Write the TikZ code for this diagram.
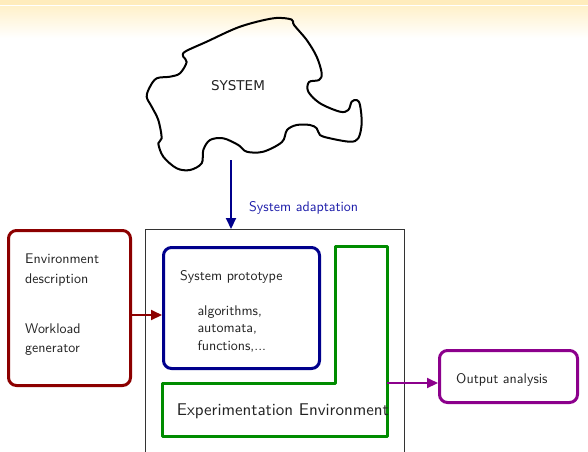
\documentclass[tikz,border=0pt]{standalone}
\usepackage{fontspec}
\newfontfamily\cloudfont{DejaVu Sans}
\newfontfamily\tensans{lmsans10-regular.otf}
\usetikzlibrary{arrows.meta}

\definecolor{boxred}{RGB}{140,0,0}
\definecolor{boxblue}{RGB}{0,0,140}
\definecolor{boxgreen}{RGB}{0,140,0}
\definecolor{boxpurple}{RGB}{140,0,140}
\definecolor{adaptblue}{RGB}{30,30,170}
\definecolor{headtop}{RGB}{255,236,188}
\definecolor{headfade}{RGB}{255,241,202}
\definecolor{txt}{RGB}{35,35,35}

\tikzset{
  smalltxt/.style={font=\tensans\fontsize{14}{17}\selectfont, text=txt, inner sep=0pt},
  bigtxt/.style={font=\tensans\fontsize{17}{20}\selectfont, text=txt, inner sep=0pt},
  roundbox/.style={line width=3pt, rounded corners=8pt},
  flow/.style={line width=2pt, -{Triangle[length=11pt,width=10pt]}},
}

\begin{document}
\begin{tikzpicture}[x=1pt,y=-1pt]
\useasboundingbox (0,0) rectangle (588,451);

% header band
\fill[headtop] (0,0) rectangle (588,4.5);
\fill[white] (0,4.5) rectangle (588,6);
\shade[top color=headfade, bottom color=white] (0,6) rectangle (588,38);

% the system cloud
\draw[line width=2pt, line join=round] plot[smooth cycle, tension=0.55] coordinates {
 (183.3,56.7) (185,51.7) (206.7,41.7) (240,26.7) (273.3,18.3) (291.5,19.5)
 (294,25) (306.7,40) (316.7,56.7) (321.7,73.3) (319,80) (309,82) (308.3,91.7)
 (320,103.3) (340,111.7) (348.3,110) (351.7,101.7) (356.7,100) (360,105)
 (361.7,123.3) (358.3,138.3) (350,141.7) (330,138.3) (320,135) (316.7,128.3)
 (310,125) (296.7,125) (287,130) (282,142) (263.3,151.7) (246.7,151.7)
 (238.3,145) (223.3,138.3) (210,140) (203.3,150) (201.7,163.3) (190,170)
 (176.7,168.3) (163.3,156.7) (158.3,143.3) (161.7,138.3) (158.3,120)
 (151.7,106.7) (146.7,96.7) (150,86.7) (156.7,78.3) (170,76.7) (180,73.3)
 (186.7,62)};
\node[font=\cloudfont\fontsize{13.5}{16}\selectfont, text=txt, inner sep=0pt] (sys) at (238,86) {SYSTEM};

% outer frame (runs off the bottom)
\draw[line width=0.8pt, black!80] (145,452) -- (145,229) -- (404,229) -- (404,452);
\coordinate (adaptfrom) at (231,160);
\coordinate (adaptto) at (231,229);
\draw[flow, boxblue] (adaptfrom) -- (adaptto);
\node[smalltxt, text=adaptblue, anchor=base west] (adapt) at (249,211) {System adaptation};

% environment / workload
\node[roundbox, draw=boxred, minimum width=122pt, minimum height=155pt, anchor=north west, inner sep=0pt] (env) at (7,229) {};
\node[smalltxt, anchor=base west] (e1) at (25,263.3) {Environment};
\node[smalltxt, anchor=base west] (e2) at (25,283) {description};
\node[smalltxt, anchor=base west] (e3) at (25,333) {Workload};
\node[smalltxt, anchor=base west] (e4) at (25,352) {generator};

% system prototype
\node[roundbox, draw=boxblue, minimum width=156pt, minimum height=121pt, anchor=north west, inner sep=0pt] (proto) at (162,246) {};
\node[smalltxt, anchor=base west] (p1) at (180,280) {System prototype};
\node[smalltxt, anchor=base west] (p2) at (197.3,315) {algorithms,};
\node[smalltxt, anchor=base west] (p3) at (197.3,332.5) {automata,};
\node[smalltxt, anchor=base west] (p4) at (197.3,350) {functions,...};

\draw[flow, boxred] (env.east |- 0,315) -- (proto.west |- 0,315);

% experimentation environment
\draw[line width=3pt, boxgreen, line join=round] (162,383) -- (335,383) -- (335,246) -- (387,246) -- (387,436) -- (162,436) -- cycle;
\node[bigtxt, anchor=base west] (expenv) at (176.7,415) {Experimentation Environment};
\coordinate (expout) at (387,383);

% output analysis
\node[roundbox, draw=boxpurple, minimum width=138pt, minimum height=52pt, anchor=north west, inner sep=0pt] (out) at (438,349) {};
\node[smalltxt, anchor=base west] (o1) at (456,383.3) {Output analysis};
\draw[flow, boxpurple] (expout) -- (out.west |- expout);
\end{tikzpicture}
\end{document}
